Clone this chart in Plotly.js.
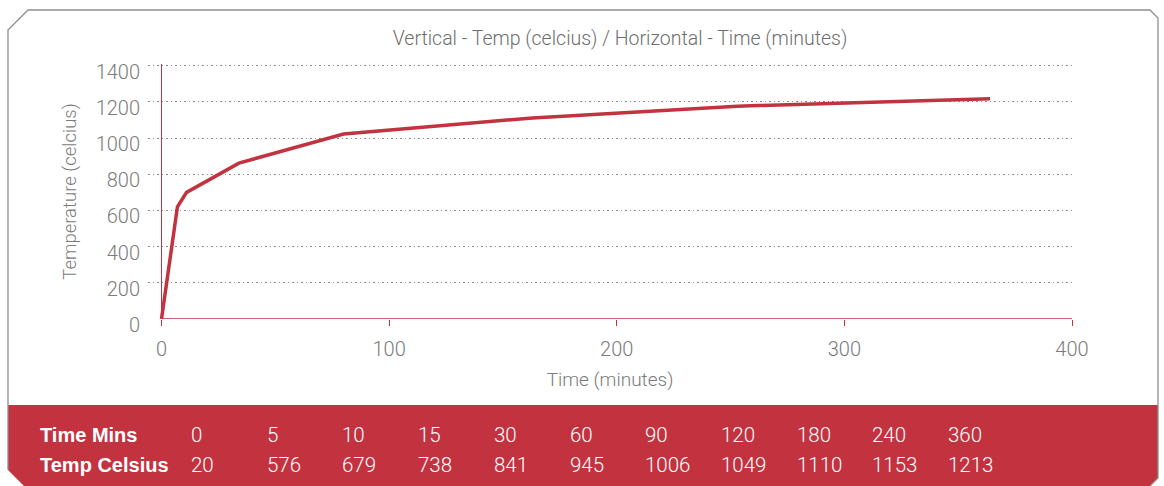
<!DOCTYPE html>
<html>
<head>
<meta charset="utf-8">
<script src="https://cdn.plot.ly/plotly-3.0.1.min.js"></script>
<style>
  html, body { margin: 0; padding: 0; background: #ffffff; }
  #chart { width: 1164px; height: 486px; }
</style>
</head>
<body>
<div id="chart"></div>
<script>
// ---- Data ----
// Plotted curve (as drawn in the chart)
const lineTime = [0, 7, 11, 34, 80, 163, 253, 364];
const lineTemp = [0, 620, 700, 862, 1023, 1112, 1177, 1218];

// Table in the red band
const tableRowLabels = ["Time Mins", "Temp Celsius"];
const tableTime = [0, 5, 10, 15, 30, 60, 90, 120, 180, 240, 360];
const tableTemp = [20, 576, 679, 738, 841, 945, 1006, 1049, 1110, 1153, 1213];

// Axis ticks
const xTicks = [0, 100, 200, 300, 400];
const yTicks = [0, 200, 400, 600, 800, 1000, 1200, 1400];

const chartTitle = "Vertical - Temp (celcius) / Horizontal - Time (minutes)";
const xTitle = "Time (minutes)";
const yTitle = "Temperature (celcius)";

// ---- Layout geometry ----
const W = 1164, H = 486;
const M = { l: 148, r: 92, t: 64, b: 167 };
const plotW = W - M.l - M.r, plotH = H - M.t - M.b;
const px = x => (x - M.l) / plotW;          // pixel -> paper x
const py = y => (H - M.b - y) / plotH;      // pixel -> paper y
const pathOf = pts => pts.map((p, i) => (i ? "L" : "M") + px(p[0]).toFixed(5) + "," + py(p[1]).toFixed(5)).join(" ");

const RED = "#c3323f";
const GREY_TXT = "#7b7b7b";
const FONT = "Roboto, 'Liberation Sans', Arial, sans-serif";

const band = pathOf([[8, 405], [1158, 405], [1158, 478], [1150, 486], [24, 486], [8, 470]]) + " Z";
const border = pathOf([[8, 470], [8, 30], [28, 10], [1150, 10], [1158, 18], [1158, 478], [1150, 486]]);

const shapes = [
  { type: "path", xref: "paper", yref: "paper", path: band, fillcolor: RED, line: { width: 0 }, layer: "below" },
  { type: "path", xref: "paper", yref: "paper", path: border, fillcolor: "rgba(0,0,0,0)", line: { color: "#8e8e8e", width: 1.3 }, layer: "below" },
  // x axis line from 0 to 400
  { type: "line", xref: "x", yref: "y", x0: xTicks[0], x1: xTicks[xTicks.length - 1], y0: 0, y1: 0, line: { color: RED, width: 1.6 }, layer: "above" }
];

const annotations = [];
const colStart = 189, colStep = 75.7;
const rowY = [435, 465];
tableRowLabels.forEach((lab, r) => {
  annotations.push({
    xref: "paper", yref: "paper", x: px(38), y: py(rowY[r]), xanchor: "left", yanchor: "middle",
    text: "<b>" + lab + "</b>", showarrow: false,
    font: { family: "'Liberation Sans', Arial, sans-serif", size: 20, color: "#ffffff" }
  });
});
[tableTime, tableTemp].forEach((row, r) => {
  row.forEach((v, i) => {
    annotations.push({
      xref: "paper", yref: "paper", x: px(colStart + i * colStep), y: py(rowY[r]), xanchor: "left", yanchor: "middle",
      text: String(v), showarrow: false,
      font: { family: FONT, size: 20.5, color: "#ffffff", weight: 300 }
    });
  });
});

const trace = {
  type: "scatter", mode: "lines", x: lineTime, y: lineTemp,
  line: { color: RED, width: 3.5 }, hoverinfo: "x+y", showlegend: false
};

const layout = {
  width: W, height: H,
  margin: M,
  paper_bgcolor: "#ffffff", plot_bgcolor: "rgba(0,0,0,0)",
  font: { family: FONT, color: GREY_TXT, size: 18, weight: 300 },
  title: {
    text: chartTitle, xref: "container", yref: "container",
    x: 620 / W, xanchor: "center", y: 1 - 38 / H, yanchor: "middle",
    font: { family: FONT, size: 19.5, color: "#6e6e6e", weight: 300 }
  },
  xaxis: {
    range: [-5.93, 400], tickvals: xTicks, ticktext: xTicks.map(String),
    showgrid: false, showline: false,
    zeroline: true, zerolinecolor: RED, zerolinewidth: 1.6,
    ticks: "outside", ticklen: 6, tickwidth: 1, tickcolor: RED,
    ticklabelstandoff: 6,
    tickfont: { family: FONT, size: 20, color: GREY_TXT, weight: 300 },
    title: { text: xTitle, standoff: 12, font: { family: FONT, size: 19, color: GREY_TXT, weight: 300 } },
    fixedrange: true, automargin: false
  },
  yaxis: {
    range: [0, 1410], tickvals: yTicks, ticktext: yTicks.map(String),
    showgrid: true, gridcolor: "#8a8a8a", gridwidth: 1, griddash: "1.5px,3px",
    zeroline: false, showline: false, ticks: "",
    ticklabelstandoff: 7, ticklabelshift: 6,
    tickfont: { family: FONT, size: 20, color: GREY_TXT, weight: 300 },
    title: { text: yTitle, standoff: 14, font: { family: FONT, size: 18.5, color: GREY_TXT, weight: 300 } },
    fixedrange: true, automargin: false
  },
  shapes: shapes,
  annotations: annotations
};

Plotly.newPlot("chart", [trace], layout, { displayModeBar: false, staticPlot: true });
</script>
</body>
</html>
